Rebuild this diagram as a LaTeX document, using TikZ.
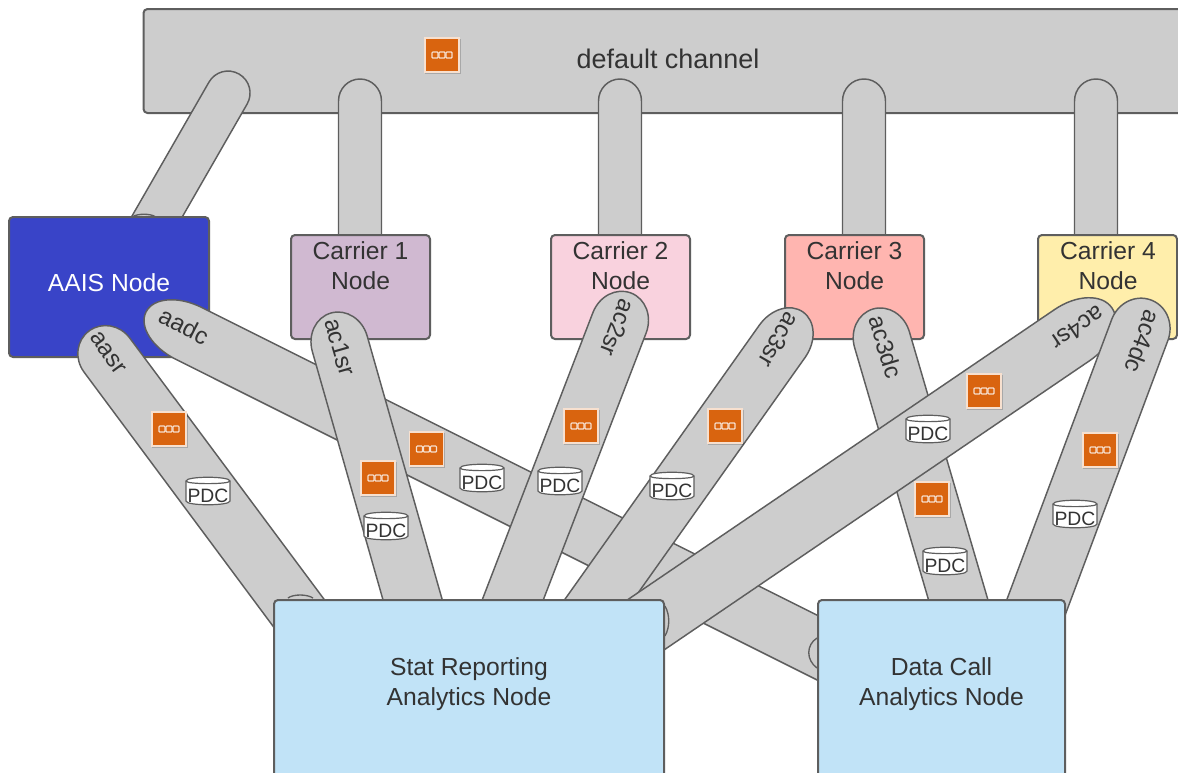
\documentclass[tikz,border=0pt]{standalone}
\usepackage{fontspec}
\setmainfont{Liberation Sans}
\usetikzlibrary{calc}
\definecolor{edgec}{HTML}{5E5E5E}
\definecolor{pillc}{HTML}{CDCDCD}
\definecolor{inkc}{HTML}{333333}
\definecolor{icono}{HTML}{D9640F}
\tikzset{
  boxn/.style={draw=edgec,line width=1.5pt,rounded corners=3pt,inner sep=0pt,minimum width=#1*0.75pt},
  boxh/.style={minimum height=#1*0.75pt},
  pillline/.style={draw=edgec,line width=1.1pt,fill=pillc,line join=round},
  lab/.style={text=inkc,font=\fontsize{18.5}{22.5}\selectfont,align=center,inner sep=0pt},
  pilllab/.style={text=inkc,font=\fontsize{18}{22}\selectfont,inner sep=0pt},
  pdct/.style={text=inkc,font=\fontsize{14.5}{16}\selectfont,inner sep=0pt},
  iconbox/.style={fill=icono,draw=icono!20!white,line width=0.8pt,inner sep=0pt,minimum size=25.5pt},
  bump/.style={draw=edgec,line width=1pt},
}
% pill from tip coordinate #1 to end coordinate #2, width #3 px, cap length #4 px
\newcommand\pill[4]{%
  \path let \p1=($(#2)-(#1)$) in \pgfextra{%
    \pgfmathsetmacro\pa{atan2(\y1,\x1)}\pgfmathsetmacro\pl{veclen(\x1,\y1)/0.75}%
    \global\let\pang\pa\global\let\plen\pl};
  \begin{scope}[shift={(#1)},rotate=\pang,x=0.75pt,y=0.75pt]
    \draw[pillline] (#4,#3/2) .. controls ({0.45*#4},#3/2) and (0,{0.28*#3}) .. (0,0)
      .. controls (0,{-0.28*#3}) and ({0.45*#4},-#3/2) .. (#4,-#3/2)
      -- (\plen,-#3/2) -- (\plen,#3/2) -- cycle;
  \end{scope}}
% storage cylinder
\newcommand\pdc[3]{%
  \begin{scope}[shift={(#2,#3)}]
    \draw[draw=edgec,line width=0.9pt,fill=white] (-22,-10) -- (-22,10)
      .. controls (-22,15) and (22,15) .. (22,10) -- (22,-10)
      .. controls (22,-15) and (-22,-15) .. (-22,-10) -- cycle;
    \draw[draw=edgec,line width=0.9pt] (-22,-10) .. controls (-22,-6.5) and (22,-6.5) .. (22,-10);
    \node[pdct] (#1) at (0,4.5) {PDC};
  \end{scope}}
% link icon
\newcommand\linkicon[3]{%
  \fill[black,opacity=0.18] (#2-17,#3-16) rectangle (#2+18.5,#3+19);
  \node[iconbox] (#1) at (#2,#3) {};
  \foreach \dx in {-7,0,7}
    \draw[draw=white!80!icono,line width=0.85pt,rounded corners=0.6pt] ($(#1)+(\dx-3,-3)$) rectangle ($(#1)+(\dx+3,3)$);
}
\begin{document}
\begin{tikzpicture}[x=0.75pt,y=-0.75pt]
\useasboundingbox (0,0) rectangle (1178,772);
\clip (0,0) rectangle (1178,772);
\fill[white] (0,0) rectangle (1178,772);

\node[boxn=1060,boxh=104,fill=pillc,anchor=north west] (chan) at (142.5,8) {};
\node[lab,font=\fontsize{20.2}{22}\selectfont] (chant) at (668,59) {default channel};
\linkicon{ic0}{442}{55}

% channel pills
\coordinate (a0) at (239,74); \coordinate (b0) at (139,248);
\coordinate (a1) at (360,79); \coordinate (b1) at (360,260);
\coordinate (a2) at (620,79); \coordinate (b2) at (620,260);
\coordinate (a3) at (864,79); \coordinate (b3) at (864,260);
\coordinate (a4) at (1096,79); \coordinate (b4) at (1096,260);
\pill{a0}{b0}{44}{22}
\pill{a1}{b1}{43}{22}
\pill{a2}{b2}{43}{22}
\pill{a3}{b3}{43}{22}
\pill{a4}{b4}{43}{22}

\node[boxn=200,boxh=140,fill={rgb,255:red,57;green,68;blue,200}] (aais) at (109,287) {};
\node[lab,text=white] (aaist) at (109,283) {AAIS Node};
\draw[bump] (133,216.5) .. controls (138,213.5) and (150,213.5) .. (155,216.5);
\node[boxn=139,boxh=104,fill={rgb,255:red,208;green,185;blue,209}] (car1) at (360.5,287) {};
\node[boxn=139,boxh=104,fill={rgb,255:red,249;green,210;blue,222}] (car2) at (620.5,287) {};
\node[boxn=139,boxh=104,fill={rgb,255:red,255;green,181;blue,176}] (car3) at (854.5,287) {};
\node[boxn=139,boxh=104,fill={rgb,255:red,255;green,238;blue,171},anchor=west] (car4) at (1037,287) {};
\node[lab] (car1t) at (360.5,266) {Carrier 1\\Node};
\node[lab] (car2t) at (620.5,266) {Carrier 2\\Node};
\node[lab] (car3t) at (854.5,266) {Carrier 3\\Node};
\node[lab] (car4t) at (1108,266) {Carrier 4\\Node};

% analytic pills
\coordinate (sd) at (146,312); \coordinate (ed) at (840,659);
\coordinate (s0) at (89,331); \coordinate (e0) at (330,655);
\coordinate (s1) at (331,313); \coordinate (e1) at (440,696);
\coordinate (s2) at (631,293); \coordinate (e2) at (478,690);
\coordinate (s3) at (803,312); \coordinate (e3) at (520,711);
\coordinate (s4) at (873,309); \coordinate (e4) at (970,640);
\coordinate (s5) at (1112,308); \coordinate (e5) at (600,656);
\coordinate (s6) at (1151,300); \coordinate (e6) at (1020,650);
\pill{sd}{ed}{58}{48}
\pill{s0}{e0}{57}{30}
\pill{s1}{e1}{57}{32}
\pill{s2}{e2}{57}{32}
\pill{s3}{e3}{56}{36}
\pill{s4}{e4}{57}{32}
\pill{s5}{e5}{62}{48}
\pill{s6}{e6}{60}{32}

\node[pilllab,rotate=-27] (ld) at (184,326) {aadc};
\node[pilllab,rotate=-54] (l0) at (108,353) {aasr};
\node[pilllab,rotate=-74] (l1) at (340,347) {ac1sr};
\node[pilllab,rotate=-111] (l2) at (618,328) {ac2sr};
\node[pilllab,rotate=-120] (l3) at (779,340) {ac3sr};
\node[pilllab,rotate=-73] (l4) at (886,347) {ac3dc};
\node[pilllab,rotate=-146] (l5) at (1078,328) {ac4sr};
\node[pilllab,rotate=-110] (l6) at (1143,342) {ac4dc};

\node[boxn=390,boxh=200,fill={rgb,255:red,193;green,227;blue,247},anchor=north west] (stat) at (273,599) {};
\node[boxn=247,boxh=200,fill={rgb,255:red,193;green,227;blue,247},anchor=north west] (data) at (817,599) {};
\node[lab] (statt) at (469,684) {Stat Reporting\\Analytics Node};
\node[lab] (datat) at (941.5,684) {Data Call\\Analytics Node};
\draw[bump] (288,598) .. controls (293,594) and (307,594) .. (313,598);
\draw[bump] (665,606) .. controls (670,615) and (670,627) .. (665,636);
\draw[bump] (817,638) .. controls (806,645) and (806,660) .. (817,668);

\linkicon{ic1}{169}{429}
\linkicon{ic2}{426.5}{449}
\linkicon{ic3}{378}{478}
\linkicon{ic4}{581}{426}
\linkicon{ic5}{725}{426}
\linkicon{ic6}{984}{391}
\linkicon{ic7}{1100}{450}
\linkicon{ic8}{932}{499}

\pdc{p1}{208}{491}
\pdc{p2}{482}{478}
\pdc{p3}{386}{526}
\pdc{p4}{560}{481}
\pdc{p5}{672}{486}
\pdc{p6}{928}{429}
\pdc{p7}{1075}{514}
\pdc{p8}{945}{561}
\end{tikzpicture}
\end{document}
